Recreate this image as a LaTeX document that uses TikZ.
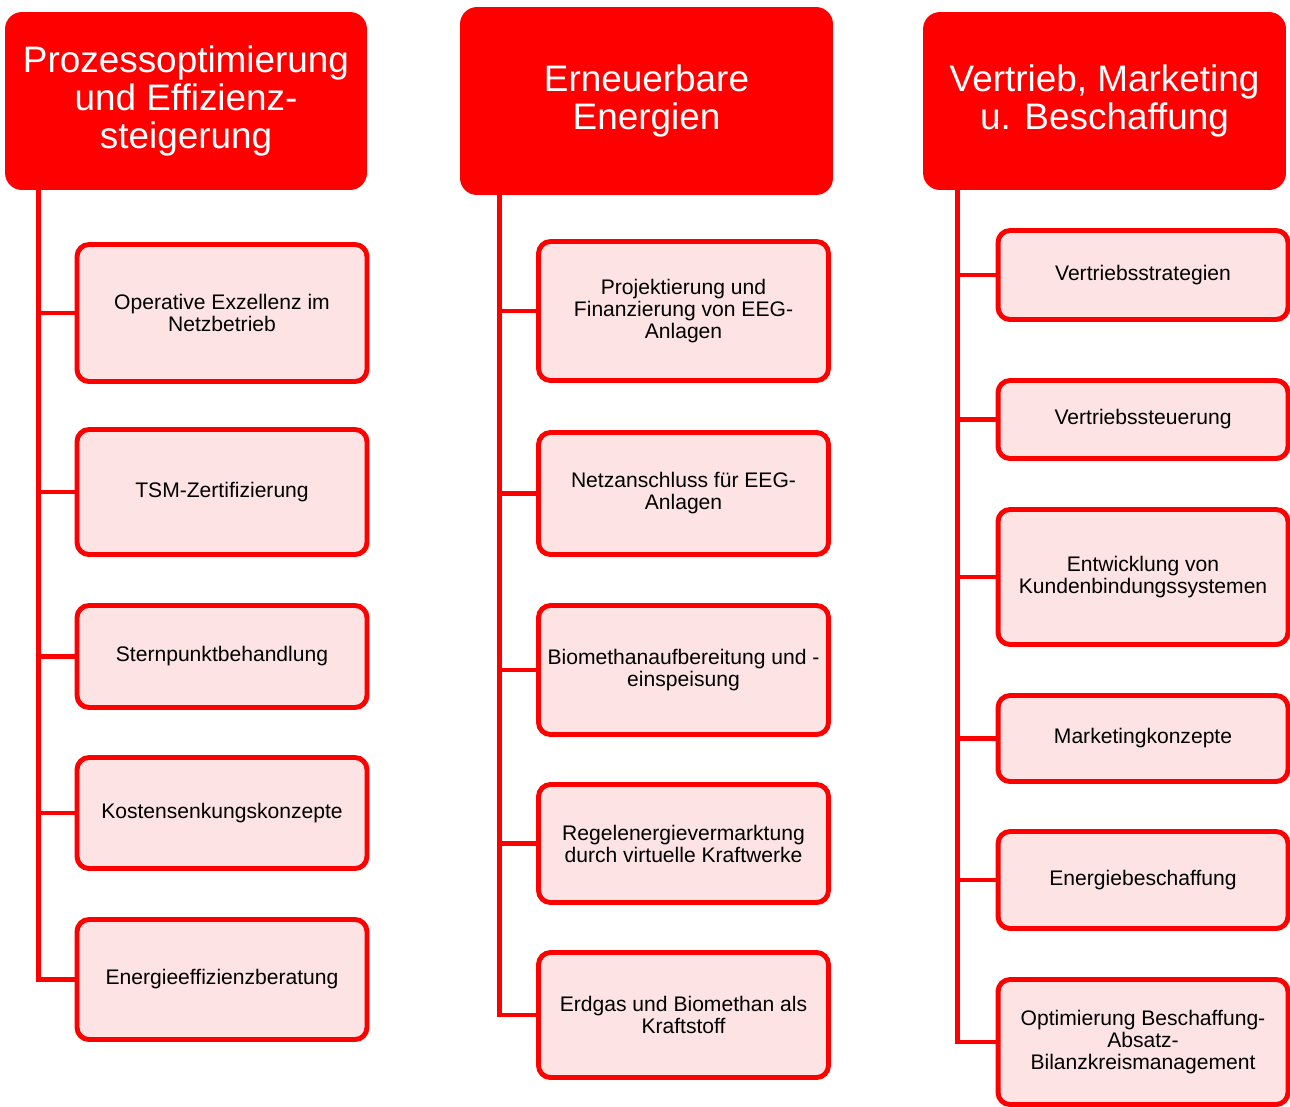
\documentclass[tikz,border=0pt]{standalone}
\usepackage{fontspec}
\setmainfont{Liberation Sans}
\definecolor{pinkfill}{RGB}{253,227,228}
\begin{document}
\begin{tikzpicture}[x=0.02cm,y=-0.02cm,
    head/.style={fill=red,text=white,rounded corners=0.34cm,align=center,
      inner sep=0pt,font=\fontsize{21}{21.5}\selectfont},
    topic/.style={draw=red,fill=pinkfill,line width=2.8pt,rounded corners=0.24cm,
      align=center,inner sep=0pt,minimum width=5.8cm,font=\fontsize{12}{12.5}\selectfont},
    link/.style={draw=red,line width=2.8pt}]
  \useasboundingbox (0,0) rectangle (1290,1106);

  % Kopfzeilen
  \node[head,minimum width=7.24cm,minimum height=3.56cm] (proz) at (186,101)
    {Prozessoptimierung\\und Effizienz-\\steigerung};
  \node[head,minimum width=7.46cm,minimum height=3.76cm] (ee) at (646.5,101)
    {Erneuerbare\\Energien};
  \node[head,minimum width=7.26cm,minimum height=3.56cm] (vert) at (1104.5,101)
    {Vertrieb, Marketing\\u. Beschaffung};

  \coordinate (prozroot) at ([xshift=0.68cm]proz.south west);
  \coordinate (eeroot) at ([xshift=0.8cm]ee.south west);
  \coordinate (vertroot) at ([xshift=0.7cm]vert.south west);

  % Spalte 1
  \foreach \i/\yc/\h/\txt in {1/313/137/{Operative Exzellenz im\\Netzbetrieb},
      2/492/125/{TSM-Zertifizierung},
      3/656.5/102/{Sternpunktbehandlung},
      4/813/111/{Kostensenkungskonzepte},
      5/979.5/120/{Energieeffizienzberatung}} {
    \node[topic,minimum height=\h*0.02cm] (proz\i) at (222,\yc) {\txt};
    \draw[link] (prozroot) |- (proz\i.west);
  }

  % Spalte 2
  \foreach \i/\yc/\h/\txt in {1/311/139/{Projektierung und\\Finanzierung von EEG-\\Anlagen},
      2/493.5/122/{Netzanschluss f\"ur EEG-\\Anlagen},
      3/670/129/{Biomethanaufbereitung und -\\einspeisung},
      4/843.5/118/{Regelenergievermarktung\\durch virtuelle Kraftwerke},
      5/1015/125/{Erdgas und Biomethan als\\Kraftstoff}} {
    \node[topic,minimum height=\h*0.02cm] (ee\i) at (683.5,\yc) {\txt};
    \draw[link] (eeroot) |- (ee\i.west);
  }

  % Spalte 3
  \foreach \i/\yc/\h/\txt in {1/275/89/{Vertriebsstrategien},
      2/419.5/78/{Vertriebssteuerung},
      3/577/135/{Entwicklung von\\Kundenbindungssystemen},
      4/738.5/86/{Marketingkonzepte},
      5/880/97/{Energiebeschaffung},
      6/1042/125/{Optimierung Beschaffung-\\Absatz-\\Bilanzkreismanagement}} {
    \node[topic,minimum height=\h*0.02cm] (vert\i) at (1143,\yc) {\txt};
    \draw[link] (vertroot) |- (vert\i.west);
  }
\end{tikzpicture}
\end{document}
